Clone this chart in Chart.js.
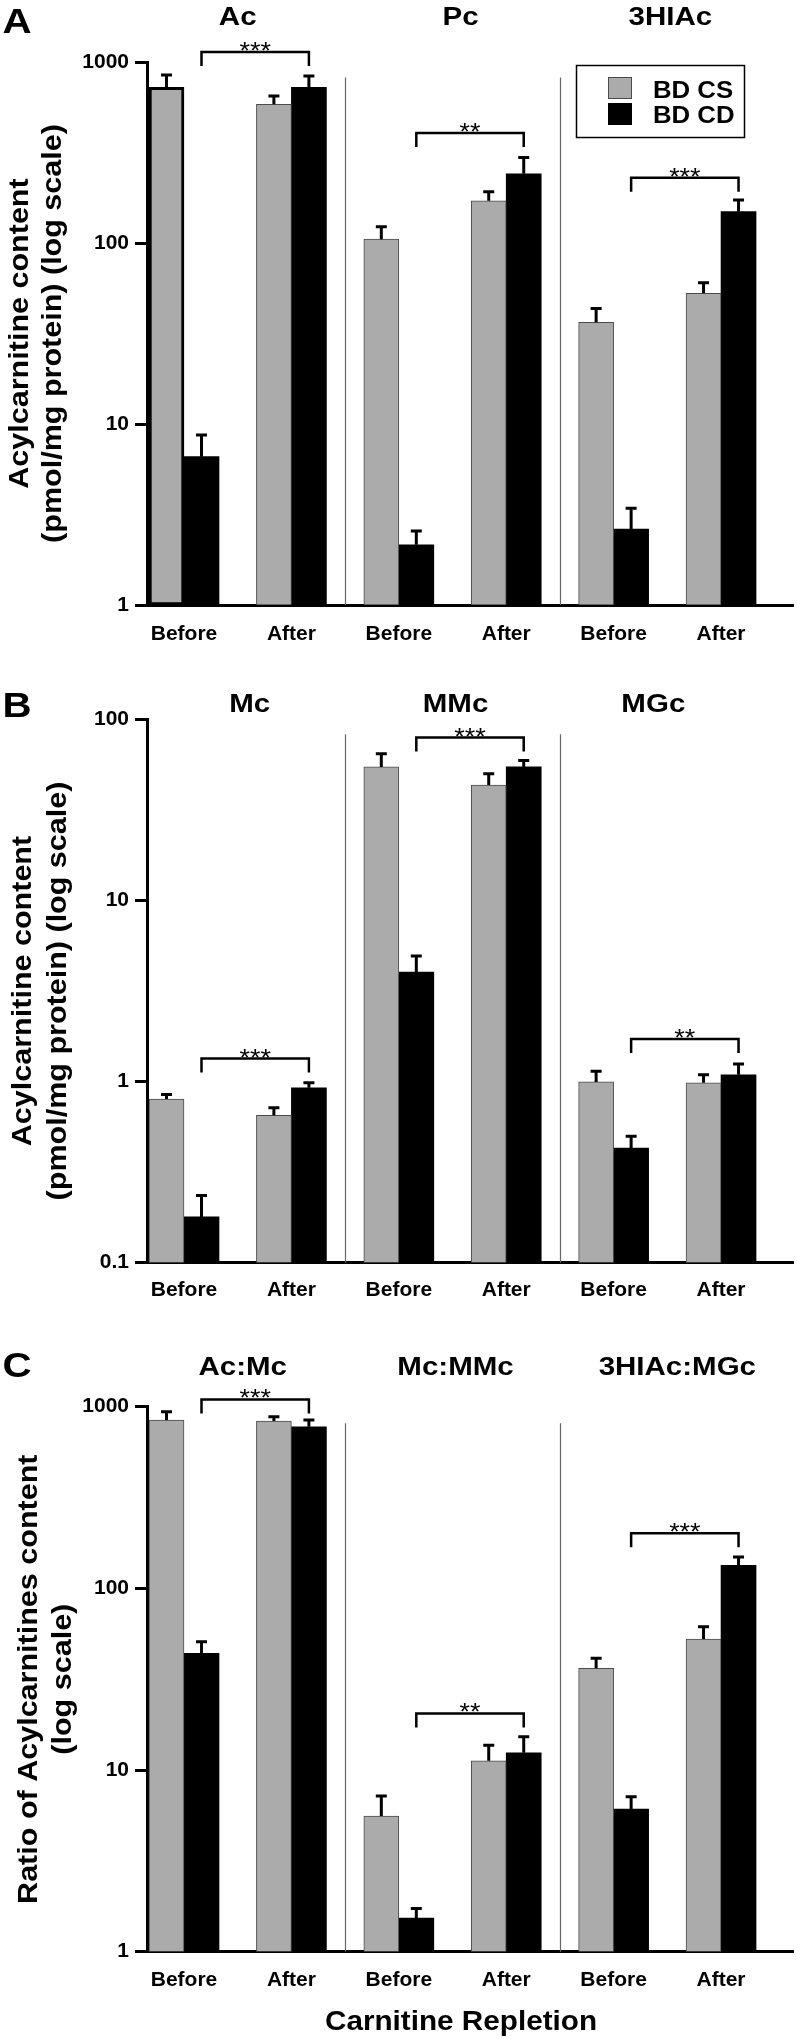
<!DOCTYPE html>
<html>
<head>
<meta charset="utf-8">
<script src="https://cdn.jsdelivr.net/npm/chart.js@4.4.1/dist/chart.umd.min.js"></script>
<style>
  html, body { margin: 0; padding: 0; background: #fff; }
  #wrap { position: relative; width: 797px; height: 2039px; }
  .panel { position: absolute; left: 0; width: 797px; }
</style>
</head>
<body>
<div id="wrap">
  <div class="panel" style="top:0;height:660px"><canvas id="chartA" width="797" height="660"></canvas></div>
  <div class="panel" style="top:660px;height:680px"><canvas id="chartB" width="797" height="680"></canvas></div>
  <div class="panel" style="top:1340px;height:699px"><canvas id="chartC" width="797" height="699"></canvas></div>
</div>
<script>
// Shared categories
const xLabels = ["Before", "After", "Before", "After", "Before", "After"];
const xPositions = [0, 1, 2, 3, 4, 5];
const seriesNames = ["BD CS", "BD CD"];

// Panel A: acylcarnitine content
const groupsA = ["Ac", "Pc", "3HIAc"];
const csA = [724, 584, 105, 171, 36.5, 52.7];
const csErrA = [848, 649, 123, 192, 43.5, 60.4];
const cdA = [6.6, 724, 2.15, 241, 2.63, 149];
const cdErrA = [8.7, 837, 2.56, 297, 3.42, 173];
const sigA = ["***", "**", "***"];
const sigTopA = [1136, 405, 229];
const ticksA = [1, 10, 100, 1000];

// Panel B
const groupsB = ["Mc", "MMc", "MGc"];
const csB = [0.80, 0.651, 54.6, 43.4, 0.996, 0.984];
const csErrB = [0.848, 0.716, 64.6, 50.1, 1.14, 1.09];
const cdB = [0.179, 0.923, 4.02, 54.6, 0.430, 1.09];
const cdErrB = [0.235, 0.984, 4.93, 59.3, 0.499, 1.25];
const sigB = ["***", "***", "**"];
const sigTopB = [1.34, 79.3, 1.72];
const ticksB = [0.1, 1, 10, 100];

// Panel C: ratios
const groupsC = ["Ac:Mc", "Mc:MMc", "3HIAc:MGc"];
const csC = [844, 833, 5.58, 11.25, 36.3, 52.6];
const csErrC = [937, 880, 7.19, 13.7, 41.2, 61.5];
const cdC = [43.9, 775, 1.53, 12.45, 6.10, 134];
const cdErrC = [50.8, 844, 1.73, 15.25, 7.13, 149];
const sigC = ["***", "**", "***"];
const sigTopC = [1097, 20.5, 201];
const ticksC = [1, 10, 100, 1000];

const FONT = "'Liberation Sans', Arial, Helvetica, sans-serif";
const grayFill = "#ababab";
const grayEdge = "#4a4a4a";

function drawText(ctx, text, x, y, font, opts = {}) {
  ctx.save();
  ctx.translate(x, y);
  if (opts.rotate) ctx.rotate(opts.rotate);
  ctx.scale(opts.sx || 1, 1);
  ctx.font = font;
  ctx.fillStyle = "#000";
  ctx.textAlign = opts.align || "center";
  ctx.textBaseline = "alphabetic";
  ctx.fillText(text, 0, 0);
  ctx.restore();
}

function decor(p) {
  return {
    id: "decor",
    afterDatasetsDraw(chart) {
      const { ctx, chartArea } = chart;
      const x = chart.scales.x, y = chart.scales.y;
      ctx.save();

      // thin separators between the three groups
      ctx.strokeStyle = "#666";
      ctx.lineWidth = 1.2;
      [1.5, 3.5].forEach(v => {
        const px = Math.round(x.getPixelForValue(v)) + 0.5;
        ctx.beginPath();
        ctx.moveTo(px, y.getPixelForValue(p.sepTop));
        ctx.lineTo(px, chartArea.bottom);
        ctx.stroke();
      });

      // upper error bars
      ctx.strokeStyle = "#000";
      ctx.lineWidth = 3;
      [p.csErr, p.cdErr].forEach((errs, d) => {
        chart.getDatasetMeta(d).data.forEach((bar, i) => {
          const yTop = y.getPixelForValue(errs[i]);
          ctx.beginPath();
          ctx.moveTo(bar.x, bar.y);
          ctx.lineTo(bar.x, yTop);
          ctx.moveTo(bar.x - 5.5, yTop);
          ctx.lineTo(bar.x + 5.5, yTop);
          ctx.stroke();
        });
      });

      // significance brackets between Before/After of BD CD
      const cdBars = chart.getDatasetMeta(1).data;
      ctx.lineWidth = 2.5;
      p.sig.forEach((s, g) => {
        const x1 = cdBars[2 * g].x, x2 = cdBars[2 * g + 1].x;
        const yt = y.getPixelForValue(p.sigTop[g]);
        ctx.beginPath();
        ctx.moveTo(x1, yt + 14);
        ctx.lineTo(x1, yt);
        ctx.lineTo(x2, yt);
        ctx.lineTo(x2, yt + 14);
        ctx.stroke();
        drawText(ctx, s, (x1 + x2) / 2, yt + 7, "23px " + FONT, { sx: 1.17 });
      });
      ctx.restore();
    },
    afterDraw(chart) {
      const { ctx, chartArea } = chart;
      const x = chart.scales.x;
      const bold = sz => "bold " + sz + "px " + FONT;

      drawText(ctx, p.letter, 17, p.letterBase, bold(35), { sx: 1.15 });
      p.groups.forEach((g, i) => {
        drawText(ctx, g, x.getPixelForValue(2 * i + 0.5) + p.titleShift[i], p.titleBase, bold(25), { sx: 1.18 });
      });

      // rotated y-axis title
      const cy = (chartArea.top + chartArea.bottom) / 2;
      p.yTitle.forEach((line, i) => {
        drawText(ctx, line, p.yTitleX[i], cy, bold(28), { rotate: -Math.PI / 2, sx: 1.09 });
      });

      if (p.legend) {
        ctx.save();
        ctx.strokeStyle = "#000";
        ctx.lineWidth = 1.5;
        ctx.strokeRect(576.5, 65.5, 168, 72);
        ctx.fillStyle = grayFill;
        ctx.fillRect(608, 77, 24, 22);
        ctx.lineWidth = 1;
        ctx.strokeStyle = grayEdge;
        ctx.strokeRect(608.5, 77.5, 23, 21);
        ctx.fillStyle = "#000";
        ctx.fillRect(608, 103, 24, 22);
        ctx.restore();
        drawText(ctx, seriesNames[0], 653, 98, bold(23), { align: "left", sx: 1.12 });
        drawText(ctx, seriesNames[1], 653, 123, bold(23), { align: "left", sx: 1.12 });
      }

      if (p.xTitle) {
        drawText(ctx, p.xTitle, 461, 690, bold(28), { sx: 1.06 });
      }
    }
  };
}

function makeChart(id, p) {
  const ctx = document.getElementById(id).getContext("2d");
  const H = ctx.canvas.height;
  const tickFont = { family: FONT, size: 21, weight: "bold" };
  return new Chart(ctx, {
    type: "bar",
    data: {
      datasets: [
        {
          label: seriesNames[0],
          data: xPositions.map((v, i) => ({ x: v, y: p.cs[i] })),
          backgroundColor: grayFill,
          borderColor: p.csEdge || grayEdge,
          borderWidth: p.csBorder || 1,
          borderSkipped: false,
          barThickness: 35
        },
        {
          label: seriesNames[1],
          data: xPositions.map((v, i) => ({ x: v, y: p.cd[i] })),
          backgroundColor: "#000",
          borderColor: "#000",
          borderWidth: 0,
          borderSkipped: false,
          barThickness: 35
        }
      ]
    },
    options: {
      responsive: false,
      animation: false,
      devicePixelRatio: 1,
      layout: { padding: { top: p.top, right: 4, bottom: 0, left: 0 } },
      plugins: { legend: { display: false }, tooltip: { enabled: false } },
      scales: {
        x: {
          type: "linear",
          offset: false,
          min: -0.3445,
          max: 5.67,
          grid: { display: false, offset: false },
          border: { display: true, color: "#000", width: 3 },
          afterBuildTicks: s => { s.ticks = xPositions.map(v => ({ value: v })); },
          afterFit: s => {
            s.height = H - p.bottom;
            s.paddingLeft = 0;
            s.paddingRight = 0;
          },
          ticks: {
            autoSkip: false,
            maxRotation: 0,
            padding: p.xPad,
            color: "#000",
            font: tickFont,
            callback: v => xLabels[Math.round(v)]
          }
        },
        y: {
          type: "logarithmic",
          min: p.ticks[0],
          max: p.ticks[p.ticks.length - 1],
          afterBuildTicks: s => { s.ticks = p.ticks.map(v => ({ value: v, major: true })); },
          afterFit: s => {
            s.width = 147;
            s.paddingTop = 0;
            s.paddingBottom = 0;
          },
          grid: { display: true, drawOnChartArea: false, drawTicks: true, tickLength: 12, lineWidth: 3, color: "#000" },
          border: { display: true, color: "#000", width: 3 },
          ticks: { padding: 6, color: "#000", font: tickFont, callback: v => String(v) }
        }
      }
    },
    plugins: [decor(p)]
  });
}

makeChart("chartA", {
  cs: csA, csErr: csErrA, cd: cdA, cdErr: cdErrA,
  csBorder: [3, 1, 1, 1, 1, 1],
  csEdge: ["#000", grayEdge, grayEdge, grayEdge, grayEdge, grayEdge],
  sig: sigA, sigTop: sigTopA, ticks: ticksA, groups: groupsA, titleShift: [0, 8, 3],
  top: 62, bottom: 605, xPad: 9, sepTop: 820,
  letter: "A", letterBase: 33, titleBase: 25,
  yTitle: ["Acylcarnitine content", "(pmol/mg protein) (log scale)"], yTitleX: [28, 61],
  legend: true
});

makeChart("chartB", {
  cs: csB, csErr: csErrB, cd: cdB, cdErr: cdErrB,
  sig: sigB, sigTop: sigTopB, ticks: ticksB, groups: groupsB, titleShift: [12, 3, -14],
  top: 59.3, bottom: 602.7, xPad: 7, sepTop: 82.6,
  letter: "B", letterBase: 57, titleBase: 52,
  yTitle: ["Acylcarnitine content", "(pmol/mg protein) (log scale)"], yTitleX: [31, 66]
});

makeChart("chartC", {
  cs: csC, csErr: csErrC, cd: cdC, cdErr: cdErrC,
  sig: sigC, sigTop: sigTopC, ticks: ticksC, groups: groupsC, titleShift: [5, 3, 10],
  top: 66.7, bottom: 611.7, xPad: 8, sepTop: 812,
  letter: "C", letterBase: 37, titleBase: 35,
  yTitle: ["Ratio of Acylcarnitines content", "(log scale)"], yTitleX: [37, 71],
  xTitle: "Carnitine Repletion"
});
</script>
</body>
</html>
